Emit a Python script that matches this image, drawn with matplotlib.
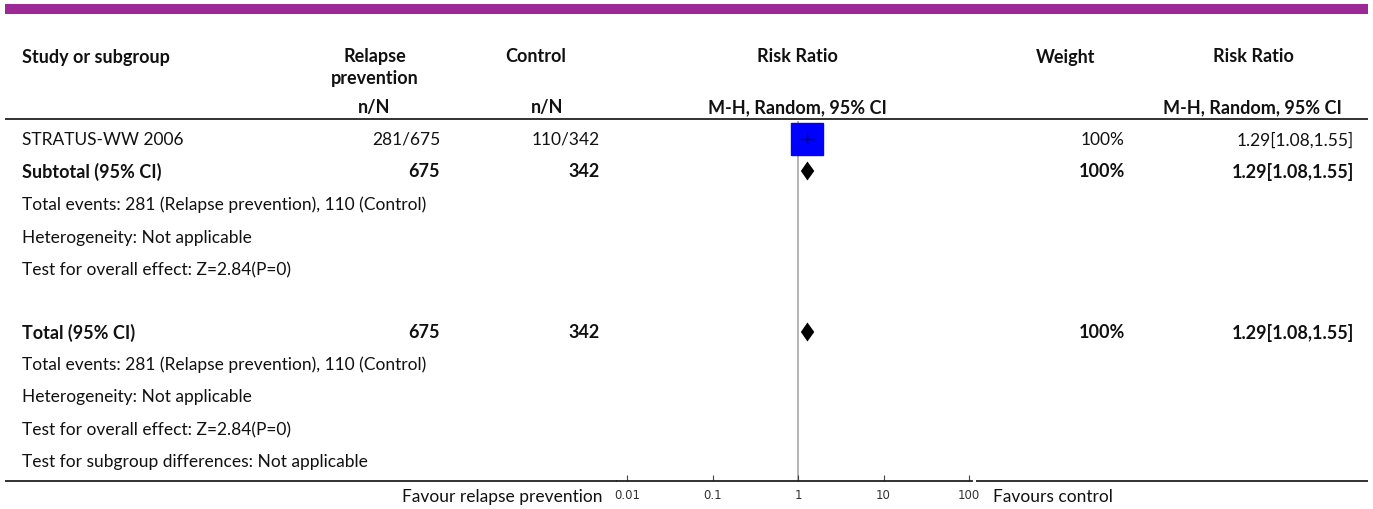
import matplotlib.pyplot as plt
import numpy as np

# data
study_names = ["STRATUS-WW 2006"]
rp_events = [281]
rp_total = [675]
ctl_events = [110]
ctl_total = [342]
rr = [1.29]
rr_lo = [1.08]
rr_hi = [1.55]
weights = ["100%"]

subtotal_n = (675, 342)
total_n = (675, 342)
pooled = (1.29, 1.08, 1.55)
pooled_weight = "100%"

footnotes = [
    "Total events: 281 (Relapse prevention), 110 (Control)",
    "Heterogeneity: Not applicable",
    "Test for overall effect: Z=2.84(P=0)",
]
subgroup_note = "Test for subgroup differences: Not applicable"
tick_vals = [0.01, 0.1, 1, 10, 100]
tick_labels = ["0.01", "0.1", "1", "10", "100"]

W, H = 1373, 510
fig = plt.figure(figsize=(W / 100, H / 100), dpi=100)
plt.rcParams['font.family'] = ['Lato', 'DejaVu Sans']

bg = fig.add_axes([0, 0, 1, 1])
bg.set_xlim(0, W)
bg.set_ylim(H, 0)
bg.axis('off')

# purple top band
bg.fill_between([5, 1368], 5, 15, color='#9C2A96', lw=0)

fs = 12.5
fs_bold = 13
def txt(x, y, s, ha='left', bold=False, **kw):
    bg.text(x, y, s, ha=ha, va='center', fontsize=fs_bold if bold else fs,
            fontweight='bold' if bold else 'normal', color='#111111', **kw)

# headers
txt(22, 57, "Study or subgroup", bold=True)
txt(375, 67.5, "Relapse\nprevention", ha='center', bold=True, linespacing=1.3)
txt(536, 57, "Control", ha='center', bold=True)
txt(797, 57, "Risk Ratio", ha='center', bold=True)
txt(1066, 57, "Weight", ha='center', bold=True)
txt(1253, 57, "Risk Ratio", ha='center', bold=True)
txt(374, 108, "n/N", ha='center', bold=True)
txt(547, 108, "n/N", ha='center', bold=True)
txt(797, 108, "M-H, Random, 95% CI", ha='center', bold=True)
txt(1342, 108, "M-H, Random, 95% CI", ha='right', bold=True)

# header rule and bottom rule
bg.hlines(120, 5, 1368, color='#222222', lw=1.3)
bg.hlines(482, 5, 617, color='#222222', lw=1.3)
bg.hlines(482, 976, 1368, color='#222222', lw=1.3)

# layout rows (pixel y)
study_y = [140]
subtotal_y = 172
sub_notes_y = [205, 238, 270]
total_y = 333
tot_notes_y = [365, 397, 430]
subgroup_y = 462

for i, name in enumerate(study_names):
    y = study_y[i]
    txt(22, y, name)
    txt(440, y, f"{rp_events[i]}/{rp_total[i]}", ha='right')
    txt(600, y, f"{ctl_events[i]}/{ctl_total[i]}", ha='right')
    txt(1125, y, weights[i], ha='right')
    txt(1354, y, f"{rr[i]:.2f}[{rr_lo[i]:.2f},{rr_hi[i]:.2f}]", ha='right')

for label, y, n in [("Subtotal (95% CI)", subtotal_y, subtotal_n),
                    ("Total (95% CI)", total_y, total_n)]:
    txt(22, y, label, bold=True)
    txt(440, y, str(n[0]), ha='right', bold=True)
    txt(600, y, str(n[1]), ha='right', bold=True)
    txt(1125, y, pooled_weight, ha='right', bold=True)
    txt(1354, y, f"{pooled[0]:.2f}[{pooled[1]:.2f},{pooled[2]:.2f}]", ha='right', bold=True)

for ys in (sub_notes_y, tot_notes_y):
    for s, y in zip(footnotes, ys):
        txt(22, y, s)
txt(22, subgroup_y, subgroup_note)

txt(603, 497, "Favour relapse prevention", ha='right')
txt(993, 497, "Favours control", ha='left')

# forest axes
x0, x1 = 617, 972
y_top, y_bot = 122, 482
ax = fig.add_axes([x0 / W, (H - y_bot) / H, (x1 - x0) / W, (y_bot - y_top) / H])
ax.patch.set_alpha(0)
ax.set_xscale('log')
ppd = 85.4
lo_lim = 0.01 * 10 ** (-(627 - x0) / ppd)
hi_lim = 100 * 10 ** ((x1 - 969) / ppd)
ax.set_xlim(lo_lim, hi_lim)
ax.set_ylim(y_bot, y_top)
for s in ['top', 'left', 'right']:
    ax.spines[s].set_visible(False)
ax.spines['bottom'].set_color('#222222')
ax.spines['bottom'].set_linewidth(1.3)
ax.set_yticks([])
ax.set_xticks(tick_vals)
ax.set_xticklabels(tick_labels, fontfamily='DejaVu Sans', fontsize=8.5, color='#333333')
ax.minorticks_off()
ax.tick_params(axis='x', direction='in', length=4, width=0.8, color='#444444', pad=5)

ax.axvline(1, color='#A8A8A8', lw=1.2, zorder=1)

for i in range(len(study_names)):
    y = study_y[i]
    ax.plot([rr[i]], [y], marker='s', markersize=22.5, color='#0000FF', mec='#0000FF', zorder=3)
    ax.plot([rr_lo[i], rr_hi[i]], [y, y], color='black', lw=0.9, zorder=4)
    ax.plot([rr[i], rr[i]], [y - 4.5, y + 4.5], color='black', lw=0.9, zorder=4)

for y in (subtotal_y, total_y):
    est, lo, hi = pooled
    ax.fill([lo, est, hi, est], [y, y - 9.5, y, y + 9.5], color='black', lw=0, zorder=3)

fig.savefig('out.png', dpi=100)
